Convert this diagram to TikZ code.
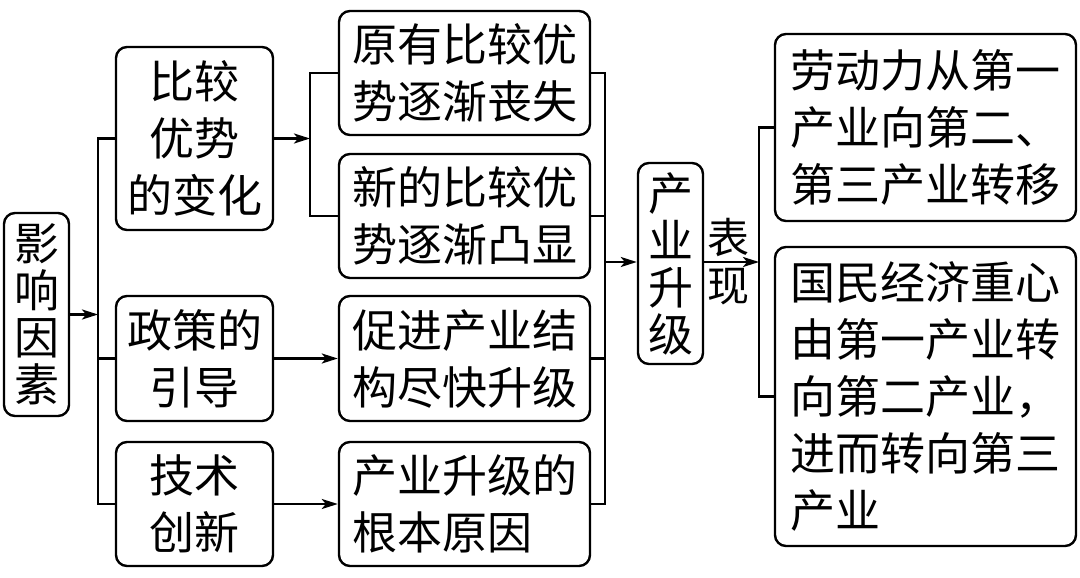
\documentclass[tikz,border=0pt]{standalone}
\usepackage{fontspec}
\setmainfont{Noto Sans CJK SC}
\usetikzlibrary{arrows.meta}
\begin{document}
\begin{tikzpicture}[x=1pt,y=-1pt, line width=2.4pt,
  box/.style={draw, rounded corners=11pt, inner sep=0pt, align=center, font=\fontsize{45}{57}\selectfont},
  vbox/.style={box, font=\fontsize{45}{47}\selectfont},
  arr/.style={-{Stealth[length=16pt,width=10pt,inset=4pt]}},
]
\useasboundingbox (0,0) rectangle (1080,578);
% boxes
\node[vbox, minimum width=65pt, minimum height=203pt] (inf) at (36.5,314.5) {影\\响\\因\\素};
\node[box, minimum width=157pt, minimum height=183pt] (cmp) at (194.5,138.5) {比较\\优势\\的变化};
\node[box, minimum width=157pt, minimum height=125pt] (pol) at (194.5,358.5) {政策的\\引导};
\node[box, minimum width=157pt, minimum height=124pt] (tec) at (194.5,504) {技术\\创新};
\node[box, minimum width=251pt, minimum height=124pt] (m1) at (464.5,73) {原有比较优\\势逐渐丧失};
\node[box, minimum width=251pt, minimum height=124pt] (m2) at (464.5,216) {新的比较优\\势逐渐凸显};
\node[box, minimum width=251pt, minimum height=125pt] (m3) at (464.5,358.5) {促进产业结\\构尽快升级};
\node[box, minimum width=251pt, minimum height=124pt, text width=225pt, align=left] (m4) at (464.5,504) {产业升级的\\根本原因};
\node[vbox, minimum width=65pt, minimum height=201pt] (up) at (670.5,263.5) {产\\业\\升\\级};
\node[box, minimum width=301pt, minimum height=187pt, text width=270pt, align=left] (r1) at (925.5,127.5) {劳动力从第一\\产业向第二、\\第三产业转移};
\node[box, minimum width=301pt, minimum height=299pt, text width=270pt, align=left] (r2) at (925.5,396.5) {国民经济重心\\由第一产业转\\向第二产业，\\进而转向第三\\产业};
\node[align=center, inner sep=0pt, font=\fontsize{42}{48}\selectfont] (lbl) at (728,262) {表\\现};
% bus coordinates
\coordinate (busL) at (98,314.5);
\coordinate (busC) at (310,138.5);
\coordinate (busM) at (605,262);
\coordinate (busR) at (759,262);
% connectors
\draw[arr] (inf) -- (busL);
\draw (cmp.west) -| (busL) |- (tec.west);
\draw (busL |- pol.west) -- (pol.west);
\draw[arr] (cmp) -- (busC);
\draw (m1.west) -| (busC) |- (m2.west);
\draw[arr] (pol) -- (m3);
\draw[arr] (tec) -- (m4);
\draw (m1.east) -| (busM) |- (m4.east);
\draw (m2.east) -- (busM |- m2.east);
\draw (m3.east) -- (busM |- m3.east);
\draw[arr] (busM) -- (busM -| up.west);
\draw[arr] (busM -| up.east) -- (busR);
\draw (r1.west) -| (busR) |- (r2.west);
\end{tikzpicture}
\end{document}
